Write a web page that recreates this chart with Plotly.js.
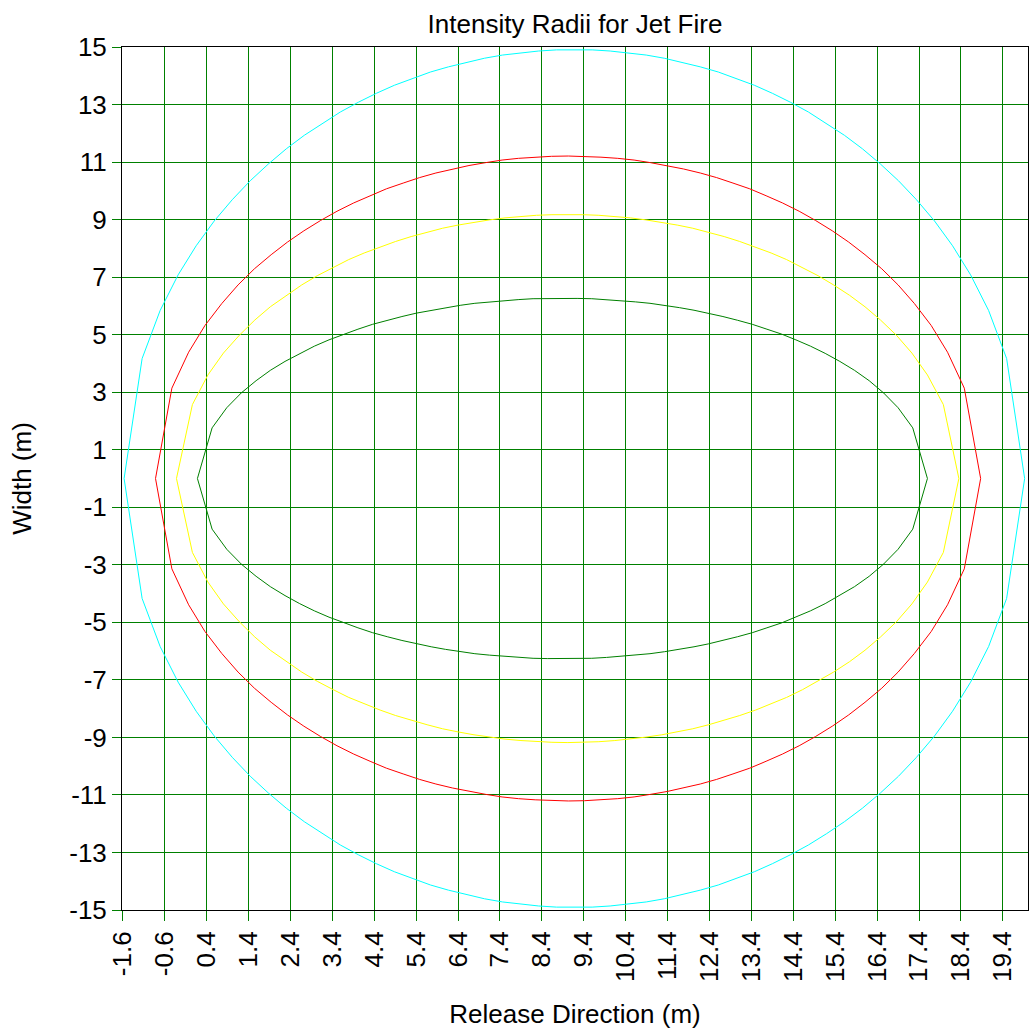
<!DOCTYPE html>
<html>
<head>
<meta charset="utf-8">
<script src="https://cdn.plot.ly/plotly-3.0.1.min.js"></script>
<style>html,body{margin:0;padding:0;background:#fff;}#chart{width:1036px;height:1030px;}</style>
</head>
<body>
<div id="chart"></div>
<script>
// Tick labels
var xTickVals = [-1.6,-0.6,0.4,1.4,2.4,3.4,4.4,5.4,6.4,7.4,8.4,9.4,10.4,11.4,12.4,13.4,14.4,15.4,16.4,17.4,18.4,19.4];
var xTickText = ["-1.6","-0.6","0.4","1.4","2.4","3.4","4.4","5.4","6.4","7.4","8.4","9.4","10.4","11.4","12.4","13.4","14.4","15.4","16.4","17.4","18.4","19.4"];
var yTickVals = [15,13,11,9,7,5,3,1,-1,-3,-5,-7,-9,-11,-13,-15];
var yTickText = ["15","13","11","9","7","5","3","1","-1","-3","-5","-7","-9","-11","-13","-15"];

// Cyan contour (outermost)
var cyanX = [-1.57,-1.14,-0.71,-0.28,0.15,0.58,1.01,1.44,1.87,2.30,2.73,3.16,3.59,4.02,4.45,4.88,5.31,5.74,6.17,6.60,7.03,7.46,7.89,8.32,8.75,9.18,9.60,10.03,10.46,10.89,11.32,11.75,12.18,12.61,13.04,13.47,13.90,14.33,14.76,15.19,15.62,16.05,16.48,16.91,17.34,17.77,18.20,18.63,19.06,19.49,19.92];
var cyanUpper = [0,4.17,5.84,7.08,8.09,8.95,9.69,10.35,10.93,11.46,11.93,12.35,12.74,13.08,13.39,13.67,13.91,14.13,14.31,14.47,14.61,14.72,14.80,14.86,14.90,14.91,14.90,14.86,14.80,14.72,14.61,14.47,14.31,14.13,13.91,13.67,13.39,13.08,12.74,12.35,11.93,11.46,10.93,10.35,9.69,8.95,8.09,7.08,5.84,4.17,0];
var cyanLower = [0,-4.17,-5.84,-7.08,-8.09,-8.95,-9.69,-10.35,-10.93,-11.46,-11.93,-12.35,-12.74,-13.08,-13.39,-13.67,-13.91,-14.13,-14.31,-14.47,-14.61,-14.72,-14.80,-14.86,-14.90,-14.91,-14.90,-14.86,-14.80,-14.72,-14.61,-14.47,-14.31,-14.13,-13.91,-13.67,-13.39,-13.08,-12.74,-12.35,-11.93,-11.46,-10.93,-10.35,-9.69,-8.95,-8.09,-7.08,-5.84,-4.17,0];

// Red contour
var redX = [-0.82,-0.43,-0.03,0.36,0.76,1.15,1.54,1.94,2.33,2.72,3.12,3.51,3.91,4.30,4.69,5.09,5.48,5.87,6.27,6.66,7.06,7.45,7.84,8.24,8.63,9.03,9.42,9.81,10.21,10.60,10.99,11.39,11.78,12.18,12.57,12.96,13.36,13.75,14.14,14.54,14.93,15.33,15.72,16.11,16.51,16.90,17.29,17.69,18.08,18.48,18.87];
var redUpper = [0,3.14,4.39,5.32,6.08,6.73,7.29,7.78,8.22,8.61,8.97,9.29,9.58,9.83,10.07,10.27,10.46,10.62,10.76,10.88,10.98,11.07,11.13,11.17,11.20,11.21,11.20,11.17,11.13,11.07,10.98,10.88,10.76,10.62,10.46,10.27,10.07,9.83,9.58,9.29,8.97,8.61,8.22,7.78,7.29,6.73,6.08,5.32,4.39,3.14,0];
var redLower = [0,-3.14,-4.39,-5.32,-6.08,-6.73,-7.29,-7.78,-8.22,-8.61,-8.97,-9.29,-9.58,-9.83,-10.07,-10.27,-10.46,-10.62,-10.76,-10.88,-10.98,-11.07,-11.13,-11.17,-11.20,-11.21,-11.20,-11.17,-11.13,-11.07,-10.98,-10.88,-10.76,-10.62,-10.46,-10.27,-10.07,-9.83,-9.58,-9.29,-8.97,-8.61,-8.22,-7.78,-7.29,-6.73,-6.08,-5.32,-4.39,-3.14,0];

// Yellow contour
var yellowX = [-0.32,0.06,0.43,0.80,1.18,1.55,1.92,2.30,2.67,3.04,3.42,3.79,4.16,4.54,4.91,5.28,5.66,6.03,6.40,6.78,7.15,7.52,7.90,8.27,8.64,9.02,9.39,9.76,10.14,10.51,10.88,11.26,11.63,12.00,12.38,12.75,13.12,13.50,13.87,14.24,14.62,14.99,15.36,15.74,16.11,16.48,16.86,17.23,17.60,17.98,18.35];
var yellowUpper = [0,2.57,3.60,4.36,4.98,5.51,5.97,6.37,6.73,7.05,7.34,7.61,7.84,8.05,8.24,8.41,8.56,8.70,8.81,8.91,8.99,9.06,9.11,9.15,9.17,9.18,9.17,9.15,9.11,9.06,8.99,8.91,8.81,8.70,8.56,8.41,8.24,8.05,7.84,7.61,7.34,7.05,6.73,6.37,5.97,5.51,4.98,4.36,3.60,2.57,0];
var yellowLower = [0,-2.57,-3.60,-4.36,-4.98,-5.51,-5.97,-6.37,-6.73,-7.05,-7.34,-7.61,-7.84,-8.05,-8.24,-8.41,-8.56,-8.70,-8.81,-8.91,-8.99,-9.06,-9.11,-9.15,-9.17,-9.18,-9.17,-9.15,-9.11,-9.06,-8.99,-8.91,-8.81,-8.70,-8.56,-8.41,-8.24,-8.05,-7.84,-7.61,-7.34,-7.05,-6.73,-6.37,-5.97,-5.51,-4.98,-4.36,-3.60,-2.57,0];

// Green contour (innermost)
var greenX = [0.18,0.53,0.88,1.23,1.58,1.92,2.27,2.62,2.97,3.32,3.67,4.01,4.36,4.71,5.06,5.41,5.76,6.10,6.45,6.80,7.15,7.50,7.85,8.19,8.54,8.89,9.24,9.59,9.94,10.28,10.63,10.98,11.33,11.68,12.03,12.37,12.72,13.07,13.42,13.77,14.12,14.46,14.81,15.16,15.51,15.86,16.21,16.55,16.90,17.25,17.60];
var greenUpper = [0,1.76,2.46,2.98,3.40,3.76,4.07,4.35,4.60,4.82,5.02,5.19,5.36,5.50,5.63,5.75,5.85,5.94,6.02,6.09,6.14,6.19,6.22,6.25,6.26,6.27,6.26,6.25,6.22,6.19,6.14,6.09,6.02,5.94,5.85,5.75,5.63,5.50,5.36,5.19,5.02,4.82,4.60,4.35,4.07,3.76,3.40,2.98,2.46,1.76,0];
var greenLower = [0,-1.76,-2.46,-2.98,-3.40,-3.76,-4.07,-4.35,-4.60,-4.82,-5.02,-5.19,-5.36,-5.50,-5.63,-5.75,-5.85,-5.94,-6.02,-6.09,-6.14,-6.19,-6.22,-6.25,-6.26,-6.27,-6.26,-6.25,-6.22,-6.19,-6.14,-6.09,-6.02,-5.94,-5.85,-5.75,-5.63,-5.50,-5.36,-5.19,-5.02,-4.82,-4.60,-4.35,-4.07,-3.76,-3.40,-2.98,-2.46,-1.76,0];

function loop(xs, upper, lower, color) {
  return {
    type: 'scatter', mode: 'lines',
    x: xs.concat(xs.slice().reverse()),
    y: upper.concat(lower.slice().reverse()),
    line: {color: color, width: 1},
    hoverinfo: 'skip', showlegend: false
  };
}

var traces = [
  loop(cyanX, cyanUpper, cyanLower, '#00FFFF'),
  loop(redX, redUpper, redLower, '#FF0000'),
  loop(yellowX, yellowUpper, yellowLower, '#FFFF00'),
  loop(greenX, greenUpper, greenLower, '#008000')
];

var FONT = 'Arial, "Liberation Sans", sans-serif';
var FS = 26;
var layout = {
  width: 1036, height: 1030,
  margin: {l: 122, r: 8, t: 47, b: 120, pad: 0},
  paper_bgcolor: '#ffffff', plot_bgcolor: '#ffffff',
  font: {family: FONT, size: FS, color: '#000000'},
  title: {text: 'Intensity Radii for Jet Fire', x: 0.5, xref: 'paper', xanchor: 'center',
          y: 1 - 24/1030, yref: 'container', yanchor: 'middle',
          font: {family: FONT, size: FS, color: '#000000'}},
  xaxis: {
    range: [-1.62, 20.0], tickmode: 'array', tickvals: xTickVals, ticktext: xTickText,
    tickangle: -90, ticks: 'outside', ticklen: 10, tickwidth: 1, tickcolor: '#008000',
    showgrid: true, gridcolor: '#008000', gridwidth: 1, zeroline: false,
    showline: true, linecolor: '#000000', linewidth: 1, mirror: true,
    tickfont: {family: FONT, size: FS, color: '#000000'},
    title: {text: 'Release Direction (m)', standoff: 23, font: {family: FONT, size: FS, color: '#000000'}}
  },
  yaxis: {
    range: [-15, 15], tickmode: 'array', tickvals: yTickVals, ticktext: yTickText,
    ticks: 'outside', ticklen: 9, tickwidth: 1, tickcolor: '#008000',
    showgrid: true, gridcolor: '#008000', gridwidth: 1, zeroline: false,
    showline: true, linecolor: '#000000', linewidth: 1, mirror: true,
    tickfont: {family: FONT, size: FS, color: '#000000'},
    title: {text: 'Width (m)', standoff: 30, font: {family: FONT, size: FS, color: '#000000'}}
  }
};

Plotly.newPlot('chart', traces, layout, {displayModeBar: false, staticPlot: true});
</script>
</body>
</html>
